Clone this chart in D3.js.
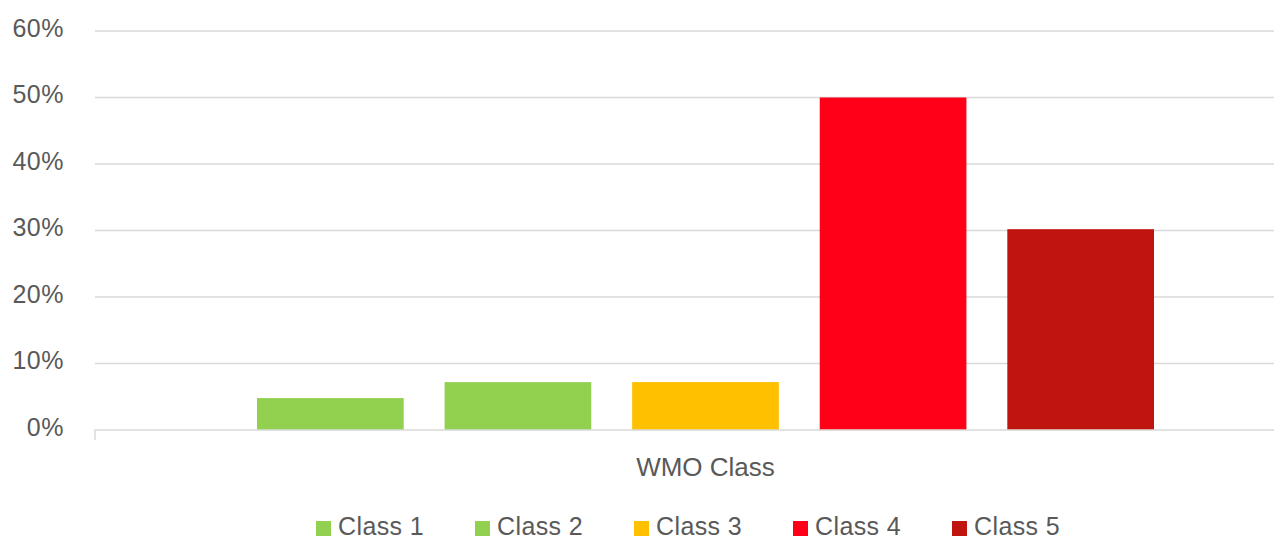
<!DOCTYPE html>
<html lang="en">
<head>
<meta charset="UTF-8">
<script src="https://d3js.org/d3.v7.min.js"></script>
<title>WMO Class</title>
<style>
  body { margin: 0; background: #fff; }
  svg { display: block; }
</style>
</head>
<body>
<script>
// data
var category = "WMO Class";
var series = ["Class 1", "Class 2", "Class 3", "Class 4", "Class 5"];
var values = [0.048, 0.072, 0.072, 0.50, 0.302];
var colors = ["#92D050", "#92D050", "#FFC000", "#FF0018", "#C0150F"];
var yTicks = [0, 0.1, 0.2, 0.3, 0.4, 0.5, 0.6];

var w = 1274, h = 541;
var plot = {left: 95, right: 1316, top: 31, bottom: 430};
var groupInset = 162;   // space between plot edge and first/last bar
var font = "'Liberation Sans', Arial, sans-serif";

var svg = d3.select("body").append("svg")
    .attr("width", w)
    .attr("height", h);

var y = d3.scaleLinear().domain([0, 0.6]).range([plot.bottom, plot.top]);

var x0 = d3.scaleBand().domain([category]).range([plot.left, plot.right]);
var x1 = d3.scaleBand().domain(series)
    .range([groupInset, x0.bandwidth() - groupInset])
    .paddingInner(0.218);

// gridlines
svg.append("g").selectAll("line")
    .data(yTicks.filter(function(d){ return d > 0; }))
    .enter().append("line")
    .attr("x1", plot.left)
    .attr("x2", plot.right)
    .attr("y1", function(d){ return y(d); })
    .attr("y2", function(d){ return y(d); })
    .attr("stroke", "#d9d9d9")
    .attr("stroke-width", 1.5);

// y axis labels
var yAxis = d3.axisLeft(y).tickValues(yTicks).tickFormat(d3.format(".0%")).tickSize(0).tickPadding(31);
var gy = svg.append("g").attr("transform", "translate(" + plot.left + ",-3)").call(yAxis);
gy.select(".domain").remove();
gy.selectAll("text")
    .attr("fill", "#595959")
    .style("font-family", font)
    .style("font-size", "25px")
    .style("letter-spacing", "0.5px");

// bars
svg.append("g").selectAll("rect")
    .data(values)
    .enter().append("rect")
    .attr("x", function(d, i){ return x0(category) + x1(series[i]); })
    .attr("y", function(d){ return y(d); })
    .attr("width", x1.bandwidth())
    .attr("height", function(d){ return y(0) - y(d); })
    .attr("fill", function(d, i){ return colors[i]; });

// category axis
var xAxis = d3.axisBottom(x0).tickSize(0).tickPadding(28);
var gx = svg.append("g").attr("transform", "translate(0," + plot.bottom + ")").call(xAxis);
gx.select(".domain")
    .attr("stroke", "#d9d9d9")
    .attr("stroke-width", 1.5)
    .attr("d", "M" + plot.left + ",10V0H" + plot.right + "V10");
gx.selectAll("text")
    .attr("fill", "#595959")
    .style("font-family", font)
    .style("font-size", "26px");

// legend
var legend = svg.append("g").selectAll("g")
    .data(series)
    .enter().append("g")
    .attr("transform", function(d, i){ return "translate(" + (316 + i * 159) + ",521)"; });
legend.append("rect")
    .attr("width", 15)
    .attr("height", 15)
    .attr("fill", function(d, i){ return colors[i]; });
legend.append("text")
    .attr("x", 22)
    .attr("y", 14)
    .attr("fill", "#595959")
    .style("font-family", font)
    .style("font-size", "25px")
    .style("letter-spacing", "0.4px")
    .text(function(d){ return d; });
</script>
</body>
</html>
